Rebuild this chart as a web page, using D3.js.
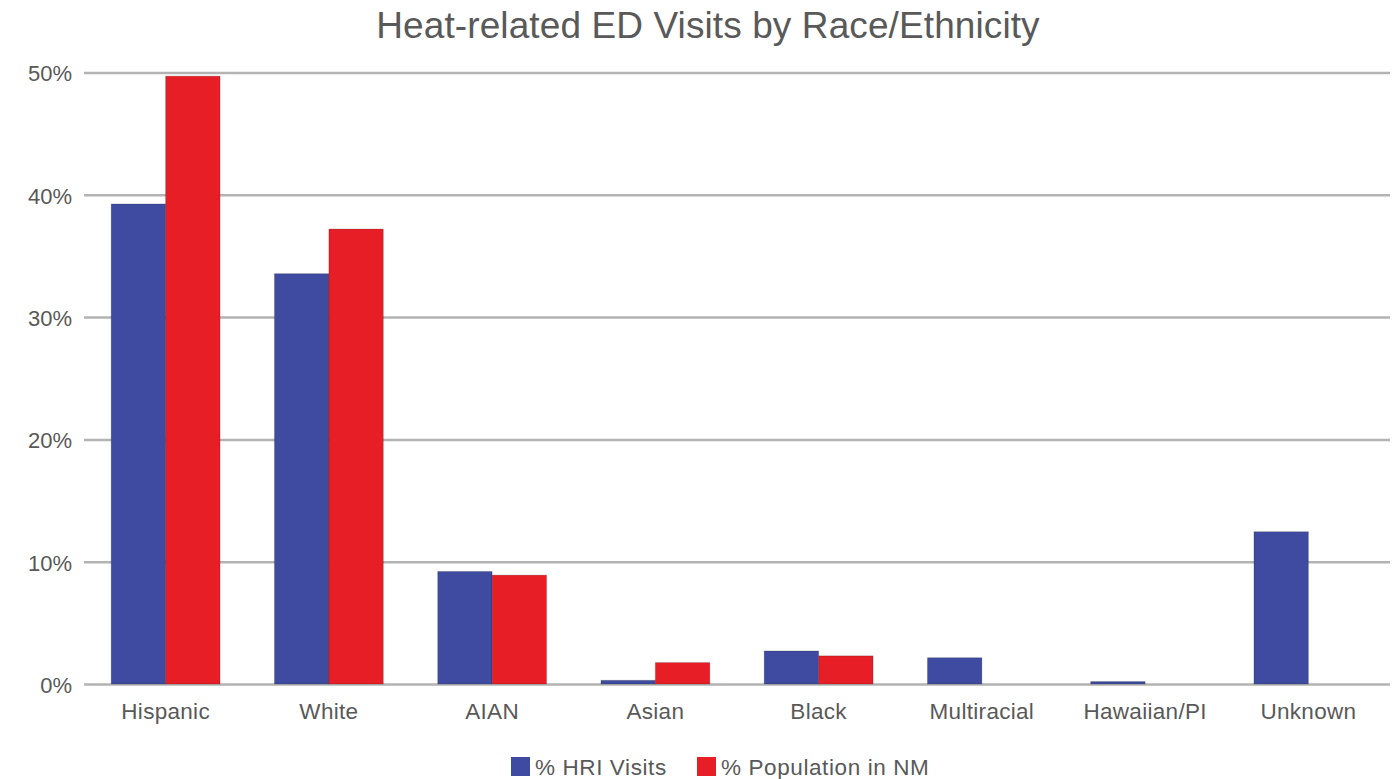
<!DOCTYPE html>
<html>
<head>
<meta charset="utf-8">
<script src="https://cdn.jsdelivr.net/npm/d3@7"></script>
<style>
  body { margin: 0; background: #fff; }
  text { font-family: "Liberation Sans", Arial, sans-serif; fill: #595959; }
</style>
</head>
<body>
<div id="chart"></div>
<script>
// Données
var categories = ["Hispanic", "White", "AIAN", "Asian", "Black", "Multiracial", "Hawaiian/PI", "Unknown"]
var hriVisits = [39.25, 33.55, 9.2, 0.3, 2.7, 2.15, 0.2, 12.45]
var popNM = [49.7, 37.2, 8.9, 1.75, 2.3, null, null, null]
var seriesNames = ["% HRI Visits", "% Population in NM"]
var yTicks = [0, 10, 20, 30, 40, 50]

var width = 1397
var height = 779

const svg = d3.select("#chart")
  .append("svg")
    .attr("width", width)
    .attr("height", height)

const colors = ["#3f4ba0", "#e81e27"]

// Echelles
const x = d3.scaleBand()
  .domain(categories)
  .range([84, 1390])
  .paddingInner(1/3)
  .paddingOuter(1/6)

const xs = d3.scaleBand()
  .domain([0, 1])
  .range([0, x.bandwidth()])

const y = d3.scaleLinear()
  .domain([0, 50])
  .range([684, 72.5])

// Titre
svg.append("text")
  .attr("x", 708)
  .attr("y", 38)
  .attr("text-anchor", "middle")
  .style("font-size", "37px")
  .style("letter-spacing", "0.1px")
  .text("Heat-related ED Visits by Race/Ethnicity")

// Grille + labels de l'axe y
const yAxis = svg.append("g")
  .attr("transform", "translate(84,0)")
  .call(d3.axisLeft(y).tickValues(yTicks).tickFormat(d => d + "%").tickSize(-(1390 - 84)).tickPadding(12))
yAxis.select(".domain").remove()
yAxis.selectAll(".tick line")
  .attr("stroke", "#b3b3b3")
  .attr("stroke-width", 2.5)
yAxis.selectAll(".tick text")
  .attr("dy", "0.38em")
  .style("font-size", "22px")
  .style("fill", "#595959")

// Barres
var rows = categories.map((c, i) => ({cat: c, vals: [hriVisits[i], popNM[i]]}))

const groups = svg.append("g")
  .selectAll("g")
  .data(rows)
  .join("g")
    .attr("transform", d => "translate(" + x(d.cat) + ",0)")

groups.selectAll("rect")
  .data(d => d.vals.map((v, k) => ({k: k, v: v})).filter(e => e.v != null))
  .join("rect")
    .attr("x", e => xs(e.k))
    .attr("width", xs.bandwidth())
    .attr("y", e => y(e.v))
    .attr("height", e => y(0) - y(e.v))
    .attr("fill", e => colors[e.k])
    .attr("stroke", "rgba(0,0,0,0.18)")
    .attr("stroke-width", 1)

// Labels de l'axe x
svg.append("g")
  .selectAll("text")
  .data(categories)
  .join("text")
    .attr("x", d => x(d) + x.bandwidth() / 2)
    .attr("y", 719)
    .attr("text-anchor", "middle")
    .style("font-size", "22.5px")
    .style("letter-spacing", "0.3px")
    .text(d => d)

// Légende
var legendX = [511, 697]
const legend = svg.append("g")
  .selectAll("g")
  .data(seriesNames)
  .join("g")
    .attr("transform", (d, i) => "translate(" + legendX[i] + ",757)")
legend.append("rect")
  .attr("width", 19)
  .attr("height", 19)
  .attr("fill", (d, i) => colors[i])
legend.append("text")
  .attr("x", 24)
  .attr("y", 18)
  .style("font-size", "22.5px")
  .style("letter-spacing", "0.6px")
  .text(d => d)
</script>
</body>
</html>
